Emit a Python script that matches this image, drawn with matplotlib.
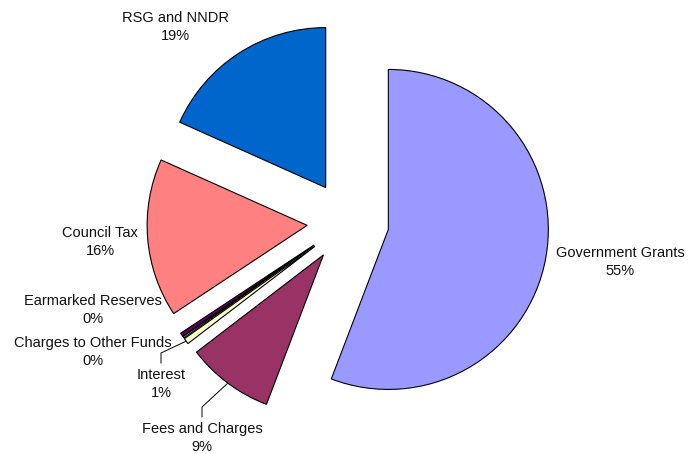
import numpy as np
import matplotlib
matplotlib.use("Agg")
import matplotlib.pyplot as plt

plt.rcParams['font.family'] = ['Liberation Sans', 'DejaVu Sans']

# slices, clockwise from 12 o'clock
labels = ['Government Grants', 'Fees and Charges', 'Interest',
          'Charges to Other Funds', 'Earmarked Reserves', 'Council Tax', 'RSG and NNDR']
values = [55.8, 8.8, 0.6, 0.15, 0.35, 16.0, 18.3]
pct_text = ['55%', '9%', '1%', '0%', '0%', '16%', '19%']   # as printed on the chart
colors = ['#9999FF', '#993366', '#FFFFCC', '#CCFFFF', '#660066', '#FF8080', '#0066CC']

# layout (pixel coords, y measured from bottom)
W, H = 689, 454
center = (348, 232)
radius = 160
gap = 41
label_xy = [(620, 192), (202, 16), (161, 70), (93, 102), (93, 144), (100, 212), (175, 427)]
leaders = [1, 2]   # slices with a leader line

fig = plt.figure(figsize=(W / 100, H / 100), dpi=100, facecolor='w')
ax = fig.add_axes([0, 0, 1, 1])

wedges, _ = ax.pie(values, colors=colors, startangle=90, counterclock=False,
                   center=center, radius=radius, explode=[gap] * len(values),
                   wedgeprops=dict(edgecolor='black', linewidth=0.8))

for i, lab in enumerate(labels):
    x, y = label_xy[i]
    ax.text(x, y, lab + "\n" + pct_text[i], ha='center', va='center',
            multialignment='center', fontsize=10.5, linespacing=1.35, color='#111111')

# leader lines for the labels sitting away from their slice
for i in leaders:
    w = wedges[i]
    mid = np.deg2rad(0.5 * (w.theta1 + w.theta2))
    cx, cy = w.center
    px, py = cx + radius * np.cos(mid), cy + radius * np.sin(mid)
    lx, ly = label_xy[i]
    ax.plot([px, lx, lx], [py, ly + 31, ly + 21], color='black', lw=0.7)

ax.set_xlim(0, W)
ax.set_ylim(0, H)
ax.axis('off')
plt.savefig("out.png", dpi=100)
